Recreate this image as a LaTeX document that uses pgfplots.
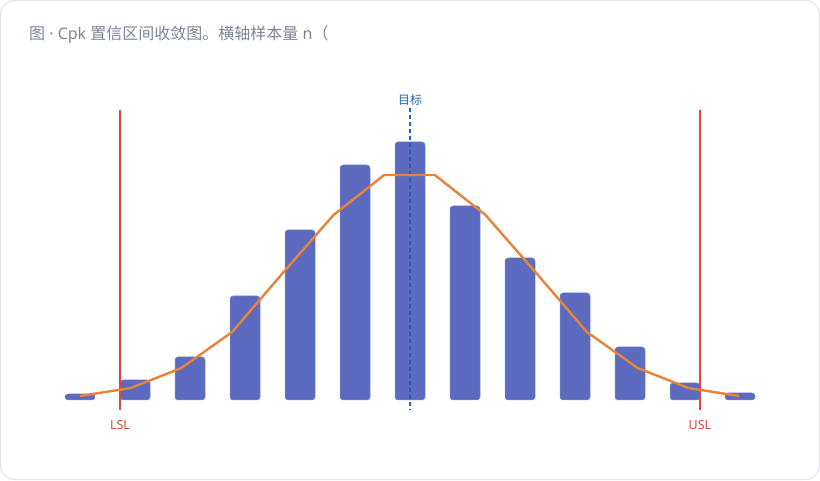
\documentclass[border=0pt]{standalone}
\usepackage{pgfplots}
\pgfplotsset{compat=1.18}
\usepackage{fontspec}
\setmainfont{Noto Sans}
\newfontfamily\cjk{Noto Sans CJK SC}
\definecolor{barc}{HTML}{5C6BC0}
\definecolor{linec}{HTML}{E8843A}
\definecolor{redc}{HTML}{E0463C}
\definecolor{bluec}{HTML}{1E63B4}
\definecolor{titlec}{HTML}{7D8696}
\definecolor{cardc}{HTML}{E2E5EA}
\begin{document}
\begin{tikzpicture}[x=1pt,y=1pt]
\fill[white] (0,0) rectangle (820,480);
\draw[cardc, line width=1pt, rounded corners=14pt] (0.5,0.5) rectangle (819.5,479.5);
\node[anchor=west, text=titlec, font=\fontsize{16}{19}\selectfont, inner sep=0pt] at (29,445) {{\cjk 图} · Cpk {\cjk 置信区间收敛图。横轴样本量} n{\cjk （}};
\begin{axis}[
  at={(0,0)}, anchor=south west,
  scale only axis, width=820pt, height=480pt,
  xmin=0, xmax=820, ymin=-80, ymax=400,
  hide axis, clip=false,
]
\addplot[ybar, bar width=30, fill=barc, draw=barc!80!white, line width=0.5pt, rounded corners=3pt] coordinates {
(80,6) (135,20) (190,43) (245,104) (300,170) (355,235) (410,258) (465,194) (520,142) (575,107) (630,53) (685,17) (740,7)
};
\addplot[redc, line width=1.6pt] coordinates {(120,290) (120,-10)};
\addplot[redc, line width=1.6pt] coordinates {(700,290) (700,-10)};
\addplot[bluec, line width=1.8pt, dash pattern=on 4pt off 3pt] coordinates {(410,292) (410,-10)};
\addplot[linec, line width=2.4pt, line join=round] coordinates {
(80,4) (130.7,12) (181.4,32) (232.1,68) (282.8,127) (333.5,185) (384.2,225) (434.8,225) (485.5,185) (536.2,127) (586.9,68) (637.6,32) (688.3,12) (739,4)
};
\node[text=bluec, font=\cjk\fontsize{12}{14}\selectfont] at (axis cs:410,300) {目标};
\node[text=redc, font=\fontsize{12.5}{14}\selectfont] at (axis cs:120,-25) {LSL};
\node[text=redc, font=\fontsize{12.5}{14}\selectfont] at (axis cs:700,-25) {USL};
\end{axis}
\end{tikzpicture}
\end{document}
